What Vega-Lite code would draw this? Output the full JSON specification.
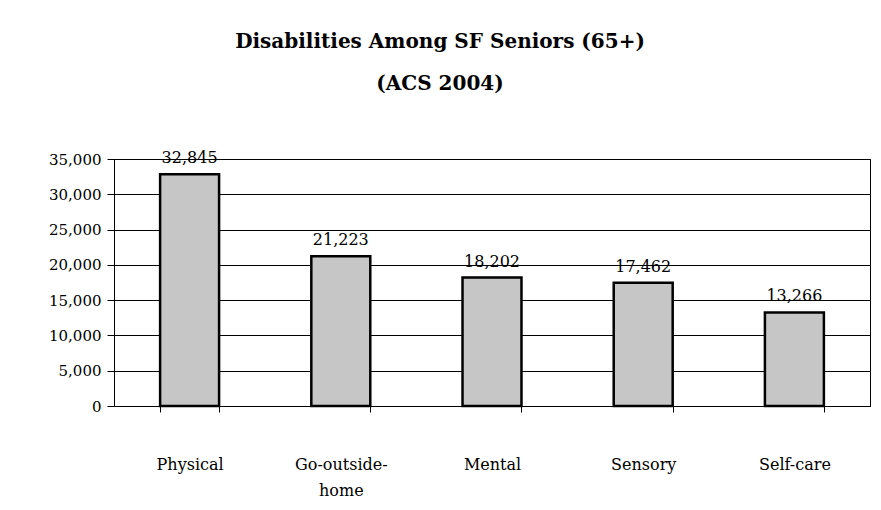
{
  "$schema": "https://vega.github.io/schema/vega-lite/v6.json",
  "width": 756,
  "height": 247,
  "autosize": "none",
  "padding": {"left": 114, "top": 159, "right": 11, "bottom": 104},
  "background": "white",
  "title": {
    "text": ["Disabilities Among SF Seniors (65+)", "(ACS 2004)"],
    "font": "DejaVu Serif",
    "fontSize": 20,
    "fontWeight": "bold",
    "color": "black",
    "lineHeight": 42,
    "anchor": "middle",
    "dx": -52,
    "offset": 56
  },
  "data": {
    "values": [
      {"category": "Physical", "count": 32845},
      {"category": "Go-outside-home", "count": 21223},
      {"category": "Mental", "count": 18202},
      {"category": "Sensory", "count": 17462},
      {"category": "Self-care", "count": 13266}
    ]
  },
  "config": {
    "view": {"stroke": "black", "strokeWidth": 1},
    "axis": {
      "labelFont": "DejaVu Serif",
      "labelColor": "black",
      "domainColor": "black",
      "tickColor": "black",
      "gridColor": "black"
    }
  },
  "encoding": {
    "x": {
      "field": "category",
      "type": "nominal",
      "sort": null,
      "scale": {"paddingInner": 0.61, "paddingOuter": 0.305},
      "axis": {
        "title": null,
        "labelAngle": 0,
        "labelFontSize": 16,
        "labelPadding": 52,
        "labelLineHeight": 26,
        "labelBaseline": "middle",
        "tickSize": 6,
        "tickBand": "extent",
        "labelExpr": "datum.value == 'Go-outside-home' ? ['Go-outside-', 'home'] : datum.value"
      }
    },
    "y": {
      "field": "count",
      "type": "quantitative",
      "scale": {"domain": [0, 35000], "nice": false},
      "axis": {
        "title": null,
        "values": [0, 5000, 10000, 15000, 20000, 25000, 30000, 35000],
        "format": ",.0f",
        "labelFontSize": 15,
        "tickSize": 7,
        "labelPadding": 6,
        "grid": true,
        "gridWidth": 1
      }
    }
  },
  "layer": [
    {
      "mark": {"type": "bar", "fill": "#c6c6c6", "stroke": "black", "strokeWidth": 2.5}
    },
    {
      "mark": {"type": "text", "font": "DejaVu Serif", "fontSize": 16, "color": "black", "dy": -16},
      "encoding": {
        "text": {"field": "count", "type": "quantitative", "format": ","}
      }
    }
  ]
}
